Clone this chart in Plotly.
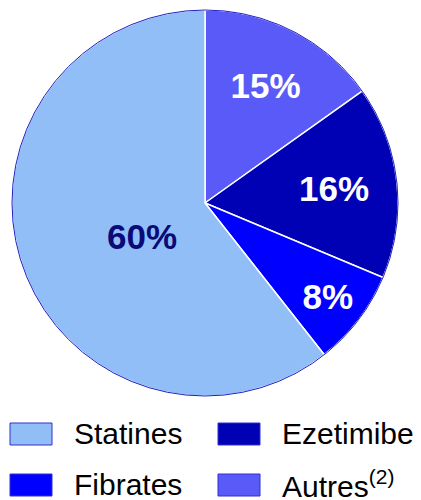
import plotly.graph_objects as go

W, H = 421, 500

# slices, clockwise from 12 o'clock
labels = ["Autres<sup>(2)</sup>", "Ezetimibe", "Fibrates", "Statines"]
values = [15, 16, 8, 60]
colors = ["#5A5AF8", "#0000B4", "#0000FF", "#91BEF7"]
text_colors = ["white", "white", "white", "#0A0A78"]

# legend reading order
legend_order = ["Statines", "Ezetimibe", "Fibrates", "Autres<sup>(2)</sup>"]

FONT = "Liberation Sans, Arial, sans-serif"


def domain(cx, cy, r):
    return dict(x=[(cx - r) / W, (cx + r) / W],
                y=[1 - (cy + r) / H, 1 - (cy - r) / H])


# pie box in pixels: centre (205, 203), radius 193
cx, cy, r = 205, 203, 193
dom = domain(cx, cy, r)

fig = go.Figure()
fig.add_trace(go.Pie(
    labels=labels,
    values=values,
    sort=False,
    direction="clockwise",
    rotation=0,
    marker=dict(colors=colors, line=dict(color="white", width=1.5)),
    texttemplate=["%{value}%", "%{value}%", "%{value}%", ""],
    textposition="inside",
    insidetextorientation="horizontal",
    textfont=dict(family=FONT, size=35, color=text_colors, weight="bold"),
    hoverinfo="label+value",
    showlegend=False,
    domain=dom,
))

# the big slice's label sits nearer the centre: carry it on a smaller see-through pie
fig.add_trace(go.Pie(
    labels=labels,
    values=values,
    sort=False,
    direction="clockwise",
    rotation=-9,
    marker=dict(colors=["rgba(0,0,0,0)"] * 4, line=dict(width=0)),
    texttemplate=["", "", "", "%{value}%"],
    textposition="inside",
    insidetextorientation="horizontal",
    textfont=dict(family=FONT, size=35, color=text_colors, weight="bold"),
    hoverinfo="skip",
    showlegend=False,
    domain=domain(cx, cy, r * 0.74),
))

shapes = [dict(
    type="circle", xref="paper", yref="paper",
    x0=dom["x"][0], x1=dom["x"][1], y0=dom["y"][0], y1=dom["y"][1],
    line=dict(color="#2020C0", width=1), layer="above",
)]
annotations = []

# hand-made 2x2 legend under the pie
col_x = [10, 218]
row_y = [434, 485]
for i, name in enumerate(legend_order):
    c = colors[labels.index(name)]
    x0 = col_x[i % 2]
    yc = row_y[i // 2]
    shapes.append(dict(
        type="rect", xref="paper", yref="paper",
        x0=x0 / W, x1=(x0 + 42) / W,
        y0=1 - (yc + 11) / H, y1=1 - (yc - 11) / H,
        fillcolor=c, line=dict(color="#3030D0", width=1),
    ))
    annotations.append(dict(
        text=name, xref="paper", yref="paper",
        x=(x0 + 62) / W, y=1 - (yc - 1) / H,
        xanchor="left", yanchor="middle", showarrow=False,
        font=dict(family=FONT, size=30, color="black"),
    ))

fig.update_layout(
    width=W, height=H,
    margin=dict(l=0, r=0, t=0, b=0),
    paper_bgcolor="white",
    plot_bgcolor="white",
    shapes=shapes,
    annotations=annotations,
)

fig.write_html("out.html", config={"displayModeBar": False},
               post_script="document.body.style.margin='0';")
